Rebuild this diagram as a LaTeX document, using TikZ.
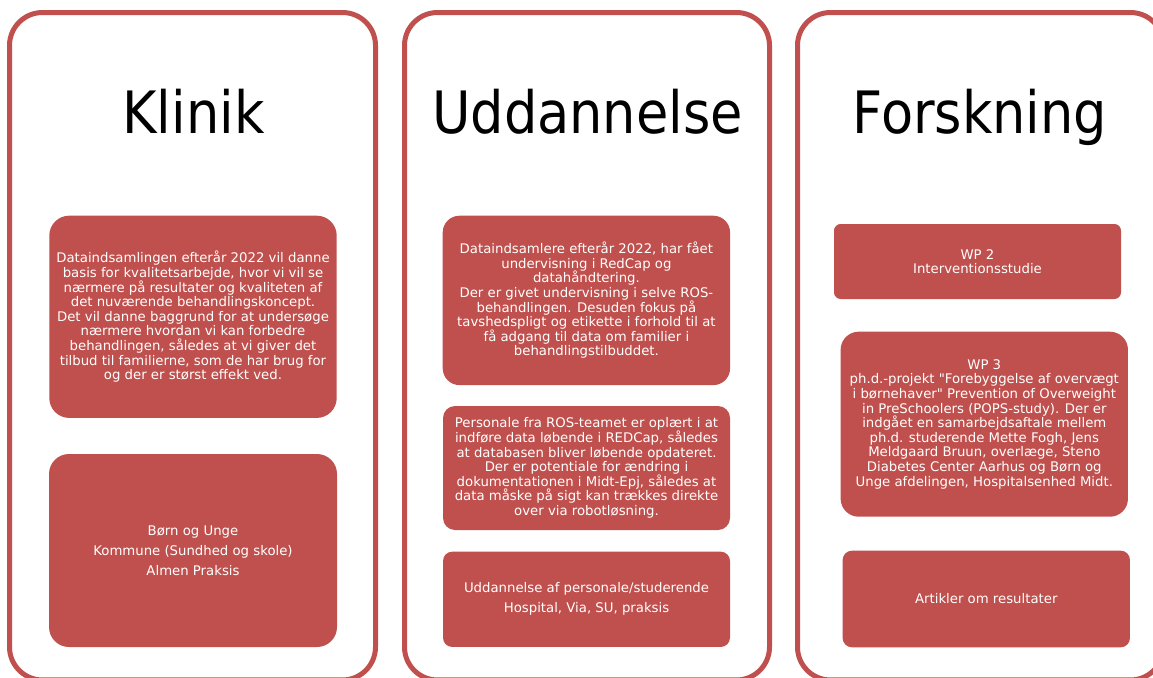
\documentclass[tikz,border=0pt]{standalone}
\usepackage{fontspec}
\setmainfont{DejaVu Sans}
\newfontfamily\titlefont{DejaVu Sans Condensed}
\newfontfamily\nomap{DejaVu Sans}[Ligatures=TeXOff]
\definecolor{accred}{HTML}{C0504D}
\newcommand{\sq}{{\nomap"}}
\begin{document}
\begin{tikzpicture}[x=0.75pt,y=-0.75pt,
  panel/.style={draw=accred,line width=3.75pt,rounded corners=24.75pt,fill=none,inner sep=0pt},
  titletext/.style={font=\titlefont\fontsize{43.8}{50}\selectfont,text=black,anchor=base,inner sep=0pt},
  box/.style={fill=accred,draw=none,text=white,align=center,inner sep=0pt,
    font=\fontsize{9.95}{10.95}\selectfont},
  widebox/.style={box,font=\fontsize{9.95}{15}\selectfont}]
\useasboundingbox (0,0) rectangle (1153,678);
\clip (0,0) rectangle (1153,678);
\node[panel,minimum width=274.5pt,minimum height=500.6pt] (p1) at (192.5,346.25) {};
\node[panel,minimum width=273.75pt,minimum height=500.6pt] (p2) at (587,346.25) {};
\node[panel,minimum width=274.5pt,minimum height=500.6pt] (p3) at (980.5,346.25) {};
\node[titletext] (t1) at (193.5,133) {Klinik};
\node[titletext] (t2) at (587.5,133) {Uddannelse};
\node[titletext] (t3) at (980,133) {Forskning};
% Klinik
\node[box,minimum width=215.6pt,minimum height=151.7pt,rounded corners=15pt] (k1) at (193,316.8)
 {Dataindsamlingen efterår 2022 vil danne\\basis for kvalitetsarbejde, hvor vi vil se\\nærmere på resultater og kvaliteten af\\det nuværende behandlingskoncept.\\Det vil danne baggrund for at undersøge\\nærmere hvordan vi kan forbedre\\behandlingen, således at vi giver det\\tilbud til familierne, som de har brug for\\og der er størst effekt ved.};
\node[widebox,minimum width=216pt,minimum height=144.75pt,rounded corners=15pt] (k2) at (193,550.5)
 {Børn og Unge\\Kommune (Sundhed og skole)\\Almen Praksis};
% Uddannelse
\node[box,minimum width=215.5pt,minimum height=127pt,rounded corners=12.5pt] (u1) at (586.4,300.4)
 {Dataindsamlere efterår 2022, har fået\\undervisning i RedCap og\\datahåndtering.\\Der er givet undervisning i selve ROS-\\behandlingen. Desuden fokus på\\tavshedspligt og etikette i forhold til at\\få adgang til data om familier i\\behandlingstilbuddet.};
\node[box,minimum width=215.25pt,minimum height=93pt,rounded corners=9pt] (u2) at (586.5,468)
 {Personale fra ROS-teamet er oplært i at\\indføre data løbende i REDCap, således\\at databasen bliver løbende opdateret.\\Der er potentiale for ændring i\\dokumentationen i Midt-Epj, således at\\data måske på sigt kan trækkes direkte\\over via robotløsning.};
\node[widebox,minimum width=215.25pt,minimum height=71.5pt,rounded corners=7pt] (u3) at (586.5,599.3)
 {Uddannelse af personale/studerende\\Hospital, Via, SU, praksis};
% Forskning
\node[box,minimum width=215.25pt,minimum height=56.25pt,rounded corners=5pt] (f1) at (977.5,261.5)
 {WP 2\\Interventionsstudie};
\node[box,minimum width=215.5pt,minimum height=138.75pt,rounded corners=13.5pt] (f2) at (984.3,424.2)
 {WP 3\\ph.d.-projekt \sq Forebyggelse af overvægt\\i børnehaver\sq{} Prevention of Overweight\\in PreSchoolers (POPS-study). Der er\\indgået en samarbejdsaftale mellem\\ph.d. studerende Mette Fogh, Jens\\Meldgaard Bruun, overlæge, Steno\\Diabetes Center Aarhus og Børn og\\Unge afdelingen, Hospitalsenhed Midt.};
\node[box,minimum width=215.5pt,minimum height=72.5pt,rounded corners=7pt] (f3) at (986.3,599)
 {Artikler om resultater};
\end{tikzpicture}
\end{document}
